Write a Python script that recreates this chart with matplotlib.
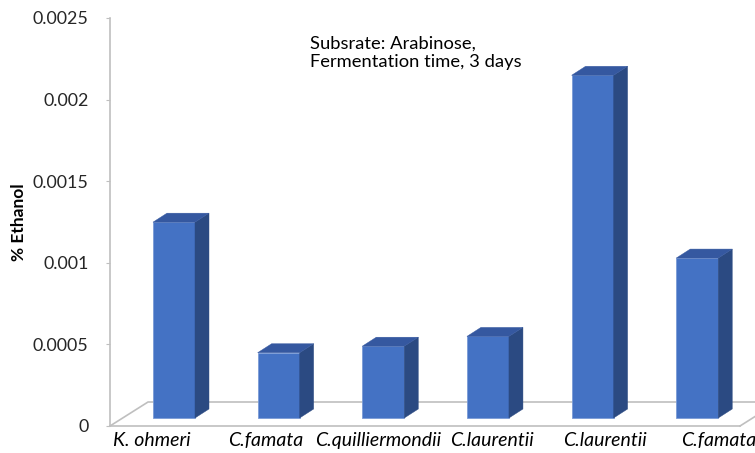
import numpy as np
import matplotlib.pyplot as plt
from matplotlib.patches import Polygon

strains = ["K. ohmeri", "C.famata", "C.quilliermondii", "C.laurentii", "C.laurentii", "C.famata"]
ethanol = [0.0012, 0.0004, 0.00044, 0.0005, 0.0021, 0.00098]
yticks = [0, 0.0005, 0.001, 0.0015, 0.002, 0.0025]
ytick_labels = ["0", "0.0005", "0.001", "0.0015", "0.002", "0.0025"]

front_col = "#4472C4"
side_col = "#2B4A82"
top_col = "#3558A0"
grey = "#BFBFBF"

plt.rcParams['font.family'] = ['Lato', 'DejaVu Sans']

fig = plt.figure(figsize=(7.55, 4.53), dpi=100)
ax = fig.add_axes([110/755, 1-426/453, 630/755, 408/453])
ax.set_xlim(-0.49, 5.53)
ax.set_ylim(0, 0.0025)

# pixel -> data conversions (fixed axes size)
px_x = 1/104.6
px_y = 0.0025/408

bar_w = 42       # px
face_dx, face_dy = 12.7, 8    # front face offset from front plane
depth_dx, depth_dy = 14, 9     # bar depth

x = np.arange(len(ethanol))
for xi, v in zip(x, ethanol):
    x0 = xi + (face_dx - bar_w/2)*px_x
    x1 = x0 + bar_w*px_x
    y0 = face_dy*px_y
    y1 = y0 + v
    ddx = depth_dx*px_x
    ddy = depth_dy*px_y
    ax.bar(x0, v, width=bar_w*px_x, bottom=y0, align='edge', color=front_col,
           edgecolor="#7A9BD6", linewidth=0.6, zorder=3)
    ax.add_patch(Polygon([(x1, y0), (x1+ddx, y0+ddy), (x1+ddx, y1+ddy), (x1, y1)],
                         closed=True, facecolor=side_col, edgecolor=side_col, lw=0.3, zorder=3))
    ax.add_patch(Polygon([(x0, y1), (x1, y1), (x1+ddx, y1+ddy), (x0+ddx, y1+ddy)],
                         closed=True, facecolor=top_col, edgecolor=top_col, lw=0.3, zorder=3))

# floor outline
fdx = 38*px_x
fdy = 24*px_y
xl, xr = ax.get_xlim()
ax.plot([xl, xl+fdx, xr+fdx+1], [0, fdy, fdy], color=grey, lw=1.2, clip_on=False, zorder=1)
ax.plot([xr, xr+fdx], [0, fdy], color=grey, lw=1.2, clip_on=False, zorder=1)

for s in ["top", "right"]:
    ax.spines[s].set_visible(False)
ax.spines["left"].set_color(grey)
ax.spines["bottom"].set_color(grey)
ax.spines["left"].set_linewidth(1.2)
ax.spines["bottom"].set_linewidth(1.2)

ax.set_yticks(yticks)
ax.set_yticklabels(ytick_labels, fontsize=12.9, color="#262626")
ax.tick_params(axis='y', length=3, color=grey, pad=12.5)

# labels sit on the front edge of the floor (slight perspective spread)
vp = 1.08
tick_pos = vp + 1.082*(x - vp)
ax.set_xticks(tick_pos)
ax.set_xticklabels(strains, fontsize=14, style='italic', color="#000000")
ax.tick_params(axis='x', length=0, pad=4)

ax.set_ylabel("% Ethanol", fontsize=12.5, fontweight='bold')
ax.yaxis.set_label_coords(-0.132, 0.5)

ax.text(0.318, 0.958, "Subsrate: Arabinose,\nFermentation time, 3 days", transform=ax.transAxes,
        fontsize=13.2, va='top', ha='left', linespacing=1.25, color="#000000")

fig.savefig("out.png", dpi=100)
